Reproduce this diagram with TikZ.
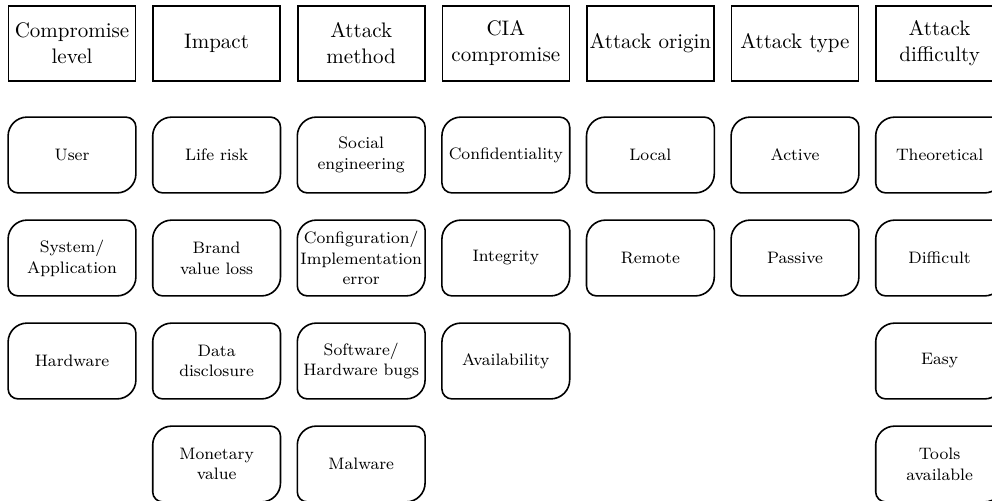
\documentclass[tikz,border=0pt]{standalone}
\begin{document}
\begin{tikzpicture}[x=0.5pt,y=-0.5pt,
  hdr/.style={draw, line width=0.8pt, rectangle, minimum width=63.5pt, minimum height=37.5pt,
    inner sep=0pt, align=center, font=\fontsize{10.5}{13}\selectfont},
  cat/.style={minimum width=63.5pt, minimum height=37.5pt, inner sep=0pt, align=center,
    font=\fontsize{8.3}{10.4}\selectfont},
  boxline/.style={line width=0.8pt}]
\useasboundingbox (0,0) rectangle (992,500);
% headers
\node[hdr] (h1) at (72,43.5) {Compromise\\level};
\node[hdr] (h2) at (216.6,43.5) {Impact};
\node[hdr] (h3) at (361.2,43.5) {Attack\\method};
\node[hdr] (h4) at (505.8,43.5) {CIA\\compromise};
\node[hdr] (h5) at (650.4,43.5) {Attack origin};
\node[hdr] (h6) at (795,43.5) {Attack type};
\node[hdr] (h7) at (939.6,43.5) {Attack\\difficulty};
% column 1
\node[cat] (a1) at (72,155) {User};
\node[cat] (a2) at (72,258) {System/\\Application};
\node[cat] (a3) at (72,361) {Hardware};
% column 2
\node[cat] (b1) at (216.6,155) {Life risk};
\node[cat] (b2) at (216.6,258) {Brand\\value loss};
\node[cat] (b3) at (216.6,361) {Data\\disclosure};
\node[cat] (b4) at (216.6,464) {Monetary\\value};
% column 3
\node[cat] (c1) at (361.2,155) {Social\\engineering};
\node[cat] (c2) at (361.2,258) {Configuration/\\Implementation\\error};
\node[cat] (c3) at (361.2,361) {Software/\\Hardware bugs};
\node[cat] (c4) at (361.2,464) {Malware};
% column 4
\node[cat] (d1) at (505.8,155) {Confidentiality};
\node[cat] (d2) at (505.8,258) {Integrity};
\node[cat] (d3) at (505.8,361) {Availability};
% column 5
\node[cat] (e1) at (650.4,155) {Local};
\node[cat] (e2) at (650.4,258) {Remote};
% column 6
\node[cat] (f1) at (795,155) {Active};
\node[cat] (f2) at (795,258) {Passive};
% column 7
\node[cat] (g1) at (939.6,155) {Theoretical};
\node[cat] (g2) at (939.6,258) {Difficult};
\node[cat] (g3) at (939.6,361) {Easy};
\node[cat] (g4) at (939.6,464) {Tools\\available};
% rounded outlines
\foreach \n in {a1,a2,a3,b1,b2,b3,b4,c1,c2,c3,c4,d1,d2,d3,e1,e2,f1,f2,g1,g2,g3,g4}{
  \draw[boxline] ([xshift=9.5pt]\n.north west) -- ([xshift=-5pt]\n.north east)
    arc[start angle=90,end angle=0,radius=5pt]
    -- ([yshift=9.5pt]\n.south east)
    arc[start angle=0,end angle=-90,radius=9.5pt]
    -- ([xshift=5pt]\n.south west)
    arc[start angle=270,end angle=180,radius=5pt]
    -- ([yshift=-9.5pt]\n.north west)
    arc[start angle=180,end angle=90,radius=9.5pt] -- cycle;
}
\end{tikzpicture}
\end{document}
